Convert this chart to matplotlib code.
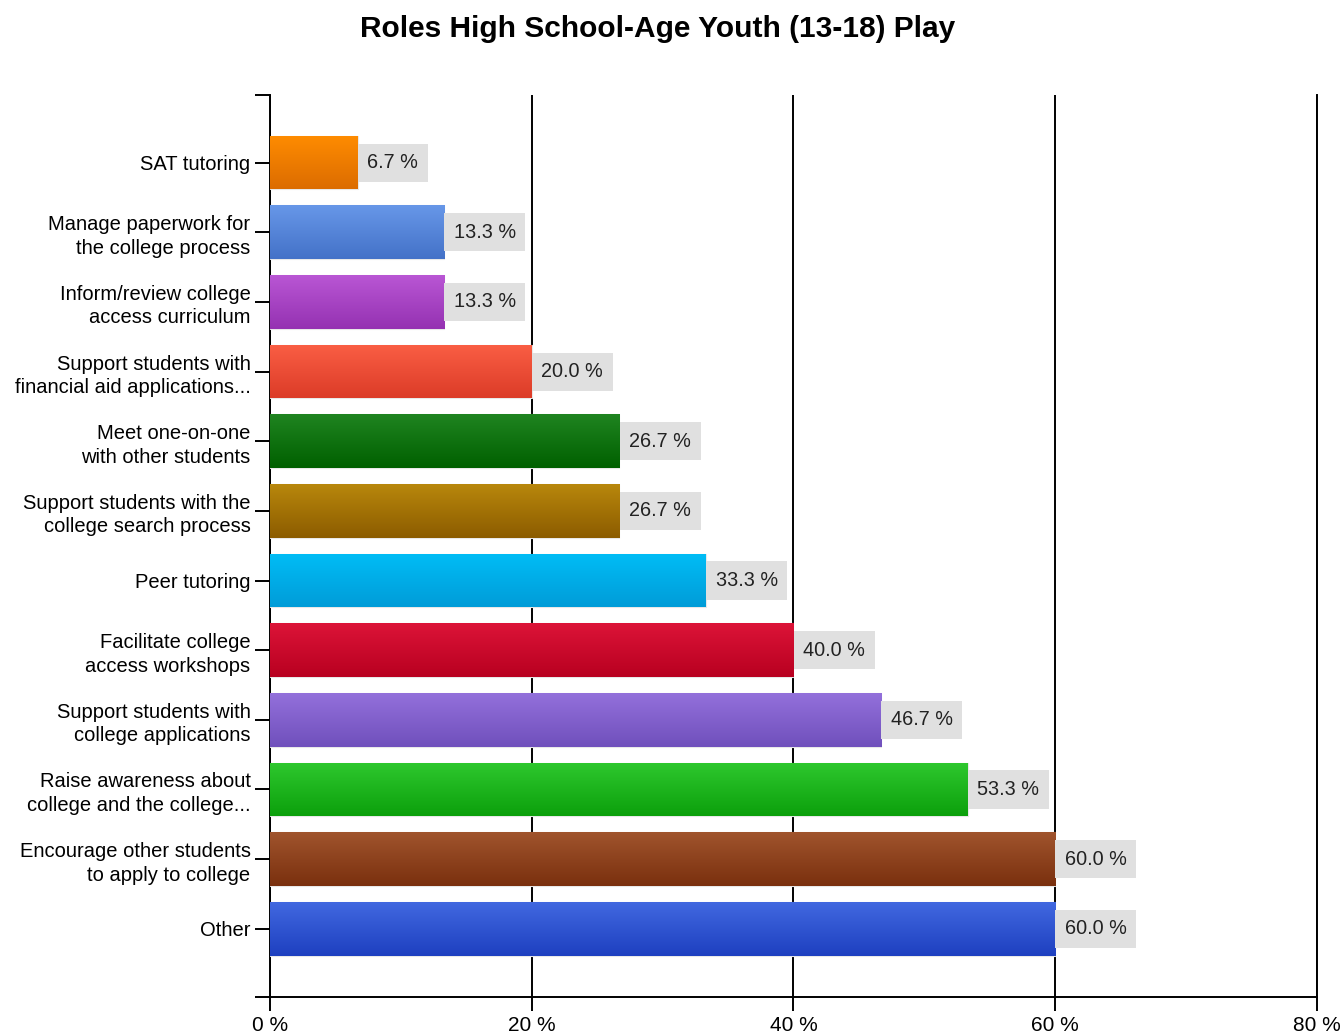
import numpy as np
import matplotlib
matplotlib.use("Agg")
import matplotlib.pyplot as plt
from matplotlib.colors import to_rgb

plt.rcParams["font.family"] = ["Liberation Sans", "DejaVu Sans"]

categories = [
    "SAT tutoring",
    "Manage paperwork for\nthe college process",
    "Inform/review college\naccess curriculum",
    "Support students with\nfinancial aid applications...",
    "Meet one-on-one\nwith other students",
    "Support students with the\ncollege search process",
    "Peer tutoring",
    "Facilitate college\naccess workshops",
    "Support students with\ncollege applications",
    "Raise awareness about\ncollege and the college...",
    "Encourage other students\nto apply to college",
    "Other",
]
values = [6.7, 13.3, 13.3, 20.0, 26.7, 26.7, 33.3, 40.0, 46.7, 53.3, 60.0, 60.0]
top_colors = ["#ff8c00", "#6797e8", "#b956d4", "#fa5e44", "#1f8420", "#b8870c",
              "#00bdf6", "#dc1438", "#9370db", "#2ec82e", "#a0542d", "#4168e0"]
bottom_colors = ["#dc6c00", "#4472c8", "#9532b2", "#dc3c28", "#006000", "#8c5c00",
                 "#009cd8", "#b80020", "#7050bc", "#0ca00c", "#7a300e", "#1e40c0"]
x_ticks = [0, 20, 40, 60, 80]

fig = plt.figure(figsize=(13.44, 10.36), dpi=100)
ax = fig.add_axes([0.2009, 0.0376, 0.7790, 0.8707])

y = np.arange(len(categories))
bars = ax.barh(y, values, height=0.77, color=bottom_colors, edgecolor="#e8e8e8",
               linewidth=0.8, zorder=3)

# vertical gradient on each bar, light on top, dark at the bottom
for bar, c_top, c_bot in zip(bars, top_colors, bottom_colors):
    t = np.linspace(0, 1, 64)[:, None]
    grad = (1 - t) * np.array(to_rgb(c_top)) + t * np.array(to_rgb(c_bot))
    grad = grad[:, None, :]
    x0, y0 = bar.get_x(), bar.get_y()
    w, h = bar.get_width(), bar.get_height()
    im = ax.imshow(grad, extent=[x0, x0 + w, y0 + h, y0], aspect="auto",
                   zorder=4, interpolation="bilinear")
    im.set_clip_path(bar)

for yi, v in zip(y, values):
    ax.annotate(f"{v:.1f} %", xy=(v, yi), xytext=(7, 0), textcoords="offset points",
                va="center", ha="left", fontsize=14.3, color="#222222", zorder=5,
                bbox=dict(boxstyle="square,pad=0.48", facecolor="#e0e0e0", edgecolor="none"))

ax.set_xlim(0, 80)
ax.set_ylim(11.98, -0.97)
ax.set_xticks(x_ticks)
ax.set_xticklabels([f"{t} %" for t in x_ticks], fontsize=15)
ax.set_yticks(y)
ax.set_yticklabels(categories, fontsize=14.5, linespacing=1.3)
ax.set_yticks([-0.97, 11.98], minor=True)
ax.tick_params(axis="y", which="both", length=11, width=1.4, color="black", pad=3)
ax.tick_params(axis="x", length=10, width=1.4, color="black", pad=4)

ax.grid(axis="x", color="black", linewidth=1.4, zorder=1)
ax.set_axisbelow(True)
ax.spines["top"].set_visible(False)
for s in ["left", "bottom", "right"]:
    ax.spines[s].set_linewidth(1.4)

fig.suptitle("Roles High School-Age Youth (13-18) Play", fontsize=21.5, fontweight="bold",
             x=0.489, y=0.986, va="top")

fig.savefig("out.png", dpi=100, facecolor="white")
